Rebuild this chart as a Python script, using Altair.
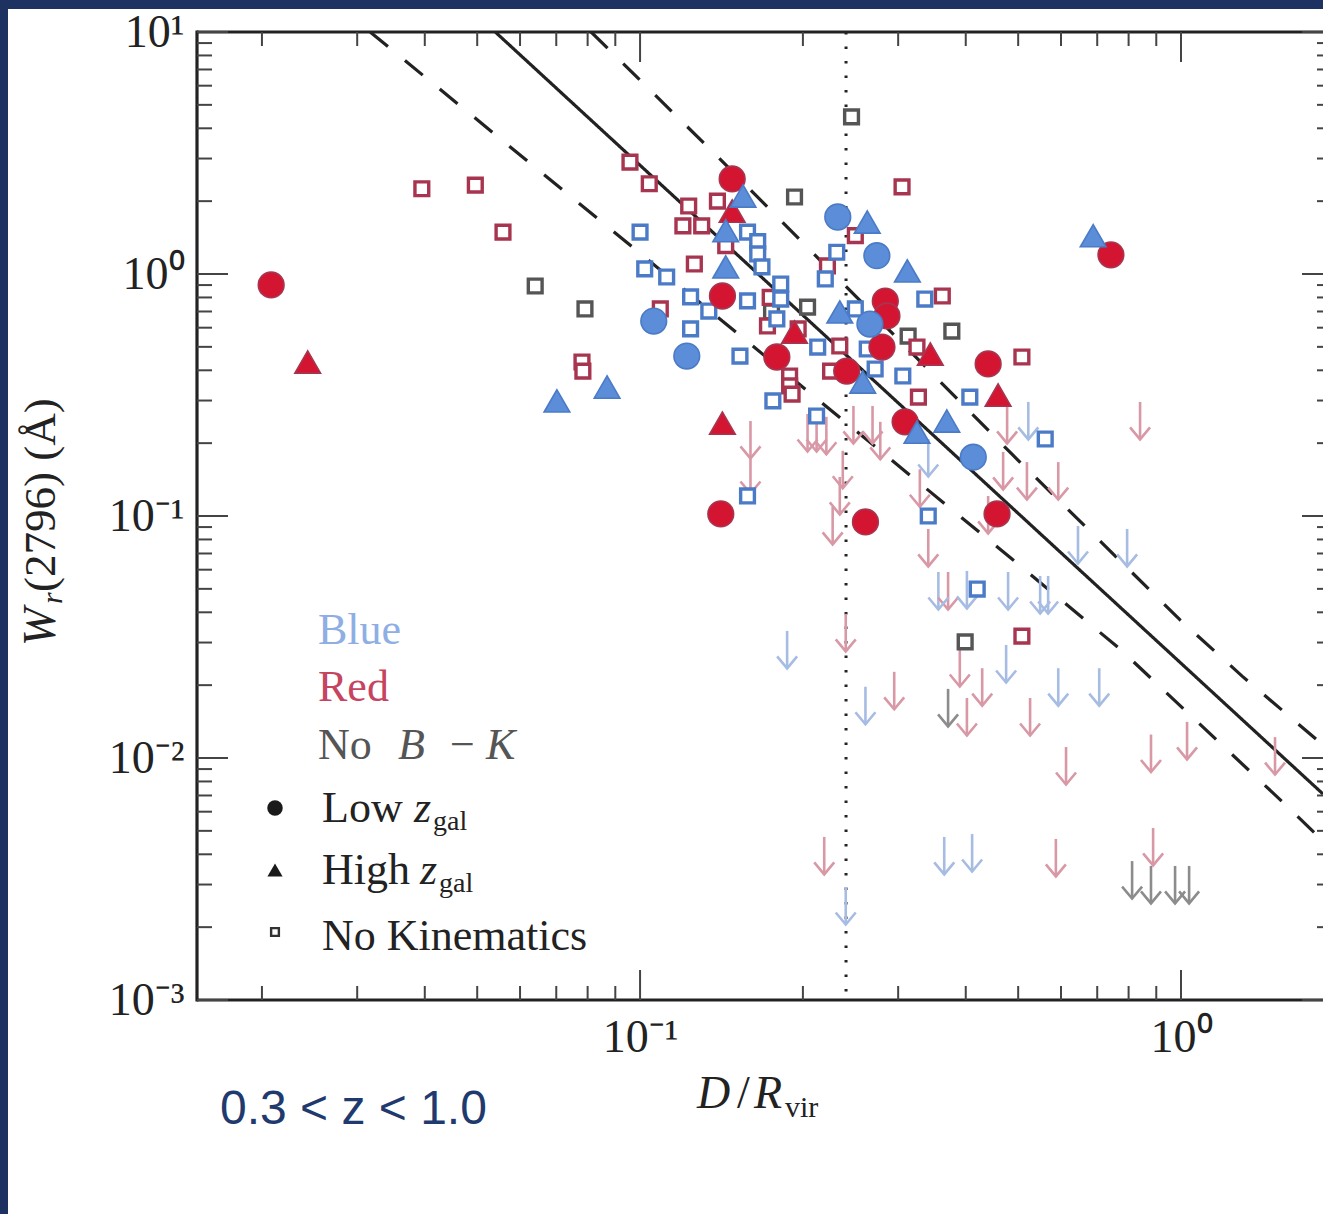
import altair as alt
import pandas as pd

# ---------------- data ----------------
# detections (D/Rvir, Wr(2796) in Angstrom)
red_circle_D = [0.0208, 0.148, 0.142, 0.179, 0.241, 0.284, 0.286, 0.280, 0.309, 0.440, 0.457, 0.261, 0.141, 0.742]
red_circle_W = [0.901, 2.47, 0.811, 0.454, 0.397, 0.773, 0.671, 0.499, 0.245, 0.425, 0.102, 0.0945, 0.102, 1.20]

red_tri_D = [0.0243, 0.142, 0.148, 0.193, 0.344, 0.459]
red_tri_W = [0.433, 0.242, 1.82, 0.576, 0.467, 0.316]

blue_circle_D = [0.106, 0.122, 0.232, 0.274, 0.266, 0.413]
blue_circle_W = [0.639, 0.458, 1.72, 1.19, 0.621, 0.175]

blue_tri_D = [0.0702, 0.0869, 0.155, 0.144, 0.144, 0.263, 0.312, 0.234, 0.258, 0.325, 0.369, 0.688]
blue_tri_W = [0.299, 0.341, 2.10, 1.51, 1.07, 1.64, 1.03, 0.697, 0.358, 0.222, 0.247, 1.44]

red_sq_D = [0.0395, 0.0496, 0.0558, 0.0958, 0.104, 0.123, 0.120, 0.130, 0.126, 0.109,
            0.0781, 0.0784, 0.139, 0.305, 0.250, 0.144, 0.222, 0.174, 0.172, 0.196,
            0.234, 0.225, 0.362, 0.325, 0.508, 0.189, 0.189, 0.191, 0.327, 0.508]
red_sq_W = [2.25, 2.33, 1.49, 2.90, 2.36, 1.91, 1.58, 1.58, 1.10, 0.717,
            0.433, 0.397, 2.00, 2.29, 1.44, 1.31, 1.08, 0.80, 0.61, 0.593,
            0.504, 0.397, 0.811, 0.499, 0.454, 0.379, 0.345, 0.319, 0.310, 0.0319]

blue_sq_D = [0.100, 0.102, 0.112, 0.124, 0.134, 0.124, 0.158, 0.165, 0.165, 0.168,
             0.182, 0.182, 0.158, 0.179, 0.153, 0.213, 0.220, 0.231, 0.250, 0.336,
             0.263, 0.272, 0.306, 0.176, 0.212, 0.158, 0.341, 0.407, 0.420, 0.561]
blue_sq_W = [1.49, 1.05, 0.972, 0.804, 0.703, 0.593, 1.49, 1.36, 1.21, 1.07,
             0.909, 0.788, 0.774, 0.652, 0.458, 0.499, 0.954, 1.23, 0.717, 0.788,
             0.490, 0.405, 0.379, 0.299, 0.259, 0.121, 0.100, 0.310, 0.0499, 0.208]

gray_sq_D = [0.246, 0.193, 0.0640, 0.0791, 0.204, 0.377, 0.313, 0.399, 0.175]
gray_sq_W = [4.46, 2.08, 0.892, 0.717, 0.730, 0.581, 0.554, 0.0302, 0.697]

# upper limits
red_lim_D = [0.160, 0.160, 0.204, 0.212, 0.221, 0.237, 0.234, 0.227, 0.248, 0.269,
             0.278, 0.329, 0.341, 0.440, 0.477, 0.469, 0.519, 0.593, 0.840, 0.371,
             0.240, 0.390, 0.295, 0.429, 0.402, 0.526, 0.613, 0.880, 1.026, 1.492,
             0.219, 0.587, 0.888]
red_lim_W = [0.247, 0.177, 0.264, 0.264, 0.257, 0.186, 0.145, 0.109, 0.285, 0.285,
             0.245, 0.156, 0.0884, 0.121, 0.285, 0.184, 0.167, 0.167, 0.296, 0.0587,
             0.0394, 0.0282, 0.0227, 0.0235, 0.0177, 0.0177, 0.0111, 0.0125, 0.0141, 0.0122,
             0.00472, 0.00463, 0.00514]

blue_lim_D = [0.341, 0.522, 0.645, 0.795, 0.356, 0.402, 0.479, 0.549, 0.568, 0.187,
              0.261, 0.475, 0.593, 0.706, 0.240, 0.365, 0.411]
blue_lim_W = [0.208, 0.296, 0.0909, 0.0884, 0.0587, 0.0593, 0.0587, 0.0565, 0.0565, 0.0335,
              0.0197, 0.0293, 0.0235, 0.0235, 0.00293, 0.00472, 0.00485]

gray_lim_D = [0.371, 0.812, 0.880, 0.975, 1.035]
gray_lim_W = [0.0193, 0.00375, 0.00358, 0.00358, 0.00358]

# fit line and its band
fit_D = [0.0540, 1.83]
fit_W = [10.0, 0.0071]
band_hi_D = [0.0812, 0.1376, 0.487, 0.996, 1.297, 1.776]
band_hi_W = [10.0, 3.13, 0.180, 0.0372, 0.0218, 0.01198]
band_lo_D = [0.0317, 0.1030, 0.487, 0.771, 1.590, 1.83]
band_lo_W = [10.0, 1.153, 0.0664, 0.0282, 0.00616, 0.00454]

vline_D = [0.2403]

# axis ticks
x_major = [0.1, 1.0]
x_minor = [0.02, 0.03, 0.04, 0.05, 0.06, 0.07, 0.08, 0.09,
           0.2, 0.3, 0.4, 0.5, 0.6, 0.7, 0.8, 0.9]
y_major = [0.001, 0.01, 0.1, 1.0, 10.0]
y_minor = [0.002, 0.003, 0.004, 0.005, 0.006, 0.007, 0.008, 0.009,
           0.02, 0.03, 0.04, 0.05, 0.06, 0.07, 0.08, 0.09,
           0.2, 0.3, 0.4, 0.5, 0.6, 0.7, 0.8, 0.9,
           2, 3, 4, 5, 6, 7, 8, 9]

# ---------------- layout / style ----------------
NAVY = "#1d3260"
INK = "#222222"
SERIF = "Liberation Serif"
PW, PH = 1126, 968          # plot area
OX, OY = 197, 32            # plot origin in the page

xs = alt.Scale(type="log", domain=[0.01517, 1.83], nice=False)
ys = alt.Scale(type="log", domain=[0.001, 10], nice=False)

one = alt.Data(values=[{"a": 1}])

x_axis = alt.Axis(values=x_major, ticks=False, domain=False, grid=False, title=None, zindex=2,
                  labelExpr="datum.value < 0.5 ? '10⁻¹' : '10⁰'",
                  labelFont=SERIF, labelFontSize=46, labelColor=INK, labelPadding=15,
                  labelFlush=False, labelOverlap=False, labelBaseline="top")
y_axis = alt.Axis(values=y_major, ticks=False, domain=False, grid=False, title=None, zindex=2,
                  labelExpr="datum.value < 0.005 ? '10⁻³' : datum.value < 0.05 ? '10⁻²' : "
                            "datum.value < 0.5 ? '10⁻¹' : datum.value < 5 ? '10⁰' : '10¹'",
                  labelFont=SERIF, labelFontSize=46, labelColor=INK, labelPadding=13,
                  labelFlush=False, labelOverlap=False, labelAlign="right", labelBaseline="middle")


def X(f):
    return alt.X(f"{f}:Q", scale=xs, axis=x_axis)


def Y(f):
    return alt.Y(f"{f}:Q", scale=ys, axis=y_axis)


def pts(D, W, grp, shp):
    return pd.DataFrame({"D": D, "W": W, "grp": grp, "shp": shp})


filled = pd.concat([
    pts(red_circle_D, red_circle_W, "Red", "circle"),
    pts(red_tri_D, red_tri_W, "Red", "triangle-up"),
    pts(blue_circle_D, blue_circle_W, "Blue", "circle"),
    pts(blue_tri_D, blue_tri_W, "Blue", "triangle-up"),
], ignore_index=True)

squares = pd.concat([
    pts(gray_sq_D, gray_sq_W, "Gray", "square"),
    pts(red_sq_D, red_sq_W, "Red", "square"),
    pts(blue_sq_D, blue_sq_W, "Blue", "square"),
], ignore_index=True)

limits = pd.concat([
    pts(red_lim_D, red_lim_W, "Red", "lim"),
    pts(blue_lim_D, blue_lim_W, "Blue", "lim"),
    pts(gray_lim_D, gray_lim_W, "Gray", "lim"),
], ignore_index=True)

lines = pd.concat([
    pd.DataFrame({"D": fit_D, "W": fit_W, "line": "fit"}),
    pd.DataFrame({"D": band_hi_D, "W": band_hi_W, "line": "hi"}),
    pd.DataFrame({"D": band_lo_D, "W": band_lo_W, "line": "lo"}),
], ignore_index=True)

grp_dom = ["Red", "Blue", "Gray"]

layers = []

# white slide area (navy border shows at top and left)
layers.append(alt.Chart(one).mark_rect(color="white").encode(
    x=alt.value(8 - OX), x2=alt.value(1323 - OX + 20),
    y=alt.value(9 - OY), y2=alt.value(1214 - OY + 20)))

# dotted vertical line
layers.append(alt.Chart(pd.DataFrame({"D": vline_D})).mark_rule(
    color=INK, strokeWidth=3, strokeDash=[2.5, 12]).encode(x=X("D")))

# fit line and dashed band
layers.append(alt.Chart(lines).mark_line(clip=True, strokeWidth=3.2).encode(
    x=X("D"), y=Y("W"),
    detail="line:N",
    color=alt.value(INK),
    strokeDash=alt.StrokeDash("line:N", scale=alt.Scale(
        domain=["fit", "hi", "lo"], range=[[1, 0], [23, 22], [23, 22]]), legend=None)))

# upper-limit arrows
lim_col = alt.Scale(domain=grp_dom, range=["#d898a6", "#a7bce2", "#8c8c8c"])
arrow_base = alt.Chart(limits).transform_calculate(W2="datum.W * 0.7")
layers.append(arrow_base.mark_rule(strokeWidth=2.6).encode(
    x=X("D"), y=Y("W"), y2="W2:Q",
    color=alt.Color("grp:N", scale=lim_col, legend=None)))
layers.append(arrow_base.mark_point(shape="M-1,-1.2L0,0L1,-1.2", filled=False, size=400,
                                    strokeWidth=2.6, opacity=1).encode(
    x=X("D"), y=Y("W2"),
    color=alt.Color("grp:N", scale=lim_col, legend=None)))

# open squares (no kinematics)
layers.append(alt.Chart(squares).mark_point(shape="square", filled=True, fill="white",
                                            size=190, strokeWidth=3.4, opacity=1, fillOpacity=1).encode(
    x=X("D"), y=Y("W"),
    stroke=alt.Stroke("grp:N", scale=alt.Scale(domain=grp_dom, range=["#a8354f", "#4b7bc6", "#555555"]),
                      legend=None)))

# filled circles / triangles
layers.append(alt.Chart(filled).mark_point(filled=True, size=660, strokeWidth=1.6, opacity=1).encode(
    x=X("D"), y=Y("W"),
    fill=alt.Fill("grp:N", scale=alt.Scale(domain=["Red", "Blue"], range=["#d41532", "#5b8dd9"]), legend=None),
    stroke=alt.Stroke("grp:N", scale=alt.Scale(domain=["Red", "Blue"], range=["#9c0c24", "#3b68b4"]), legend=None),
    shape=alt.Shape("shp:N", scale=alt.Scale(domain=["circle", "triangle-up"],
                                             range=["circle", "triangle-up"]), legend=None)))

# frame (left, top, bottom)
layers.append(alt.Chart(one).mark_rule(color=INK, strokeWidth=3.2).encode(
    x=alt.value(0), y=alt.value(-1.5), y2=alt.value(PH + 1.5)))
layers.append(alt.Chart(one).mark_rule(color=INK, strokeWidth=3.2).encode(
    x=alt.value(0), x2=alt.value(PW), y=alt.value(0)))
layers.append(alt.Chart(one).mark_rule(color=INK, strokeWidth=3.2).encode(
    x=alt.value(0), x2=alt.value(PW), y=alt.value(PH)))

# inward ticks
TICK = "#444444"
for vals, ln in ((x_major, 30), (x_minor, 14)):
    d = pd.DataFrame({"v": vals})
    layers.append(alt.Chart(d).mark_rule(color=TICK, strokeWidth=2).encode(
        x=X("v"), y=alt.value(PH), y2=alt.value(PH - ln)))
    layers.append(alt.Chart(d).mark_rule(color=TICK, strokeWidth=2).encode(
        x=X("v"), y=alt.value(0), y2=alt.value(ln)))
for vals, ln, rln in ((y_major, 31, 21), (y_minor, 15, 6)):
    d = pd.DataFrame({"v": vals})
    layers.append(alt.Chart(d).mark_rule(color=TICK, strokeWidth=2).encode(
        y=Y("v"), x=alt.value(0), x2=alt.value(ln)))
    layers.append(alt.Chart(d).mark_rule(color=TICK, strokeWidth=2).encode(
        y=Y("v"), x=alt.value(PW), x2=alt.value(PW - rln)))


def txt(s, x, y, size=44, style="normal", color=INK, font=SERIF, angle=0, align="left"):
    return alt.Chart(one).mark_text(text=s, font=font, fontSize=size, fontStyle=style,
                                    color=color, angle=angle, align=align,
                                    baseline="alphabetic").encode(
        x=alt.value(x - OX), y=alt.value(y - OY))


def sym(shape, x, y, size, filled=True):
    if filled:
        m = alt.Chart(one).mark_point(shape=shape, filled=True, size=size, color="#1a1a1a", opacity=1)
    else:
        m = alt.Chart(one).mark_point(shape=shape, filled=True, fill="white", stroke="#333333",
                                      strokeWidth=2.4, size=size, opacity=1)
    return m.encode(x=alt.value(x - OX), y=alt.value(y - OY))


# legend
layers += [
    txt("Blue", 318, 644, color="#8eaee4"),
    txt("Red", 318, 701, color="#c6445f"),
    txt("No", 318, 759, color="#555555"),
    txt("B", 398, 759, style="italic", color="#555555"),
    txt("−", 450, 759, color="#555555"),
    txt("K", 486, 759, style="italic", color="#555555"),
    sym("circle", 275, 808, 240),
    sym("triangle-up", 275, 870, 230),
    sym("square", 275, 932, 60, filled=False),
    txt("Low", 322, 822),
    txt("z", 414, 822, style="italic"),
    txt("gal", 433, 830, size=28),
    txt("High", 322, 884),
    txt("z", 420, 884, style="italic"),
    txt("gal", 439, 892, size=28),
    txt("No Kinematics", 322, 950),
]

# axis titles
layers += [
    txt("D", 697, 1108, size=46, style="italic"),
    txt("/", 737, 1108, size=46),
    txt("R", 754, 1108, size=46, style="italic"),
    txt("vir", 785, 1117, size=30),
    txt("W", 55, 646, size=46, style="italic", angle=270),
    txt("r", 62, 604, size=30, style="italic", angle=270),
    txt("(2796) (Å)", 55, 592, size=45, angle=270),
]

# slide annotation
layers.append(txt("0.3 < z < 1.0", 220, 1124, size=48, font="Liberation Sans", color="#1f3a6e"))

chart = alt.layer(*layers).properties(
    width=PW, height=PH,
    autosize=alt.AutoSizeParams(type="none"),
    padding={"left": OX, "top": OY, "right": 1323 - OX - PW, "bottom": 1214 - OY - PH},
    background=NAVY,
).configure_view(strokeWidth=0)

chart.save("out.html", embed_options={"renderer": "svg", "actions": False})
